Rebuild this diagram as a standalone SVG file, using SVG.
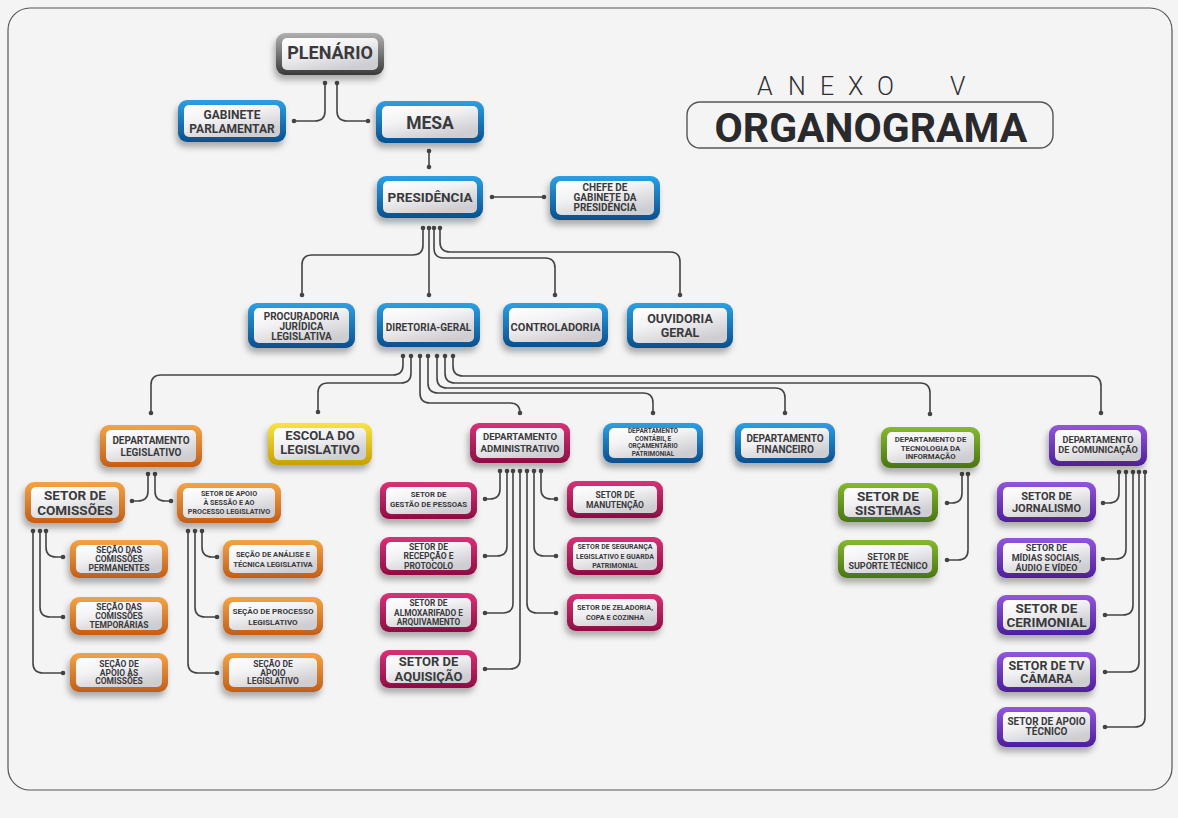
<svg xmlns="http://www.w3.org/2000/svg" width="1178" height="818" viewBox="0 0 1178 818">
<style>
.o{filter:url(#sh)}
.i{fill:url(#gIn)}
.t{font-family:Roboto,"Liberation Sans",sans-serif;font-weight:700;fill:#3a3a3c;text-anchor:middle}
.gray .o{fill:url(#gGray)}
.blue .o{fill:url(#gBlue)}
.orange .o{fill:url(#gOrange)}
.yellow .o{fill:url(#gYellow)}
.mag .o{fill:url(#gMag)}
.green .o{fill:url(#gGreen)}
.purple .o{fill:url(#gPurple)}
#connectors path{fill:none;stroke:#444;stroke-width:1.6;marker-start:url(#dot);marker-end:url(#dot)}
</style>
<defs>
<filter id="sh" x="-20%" y="-30%" width="140%" height="170%"><feDropShadow dx="-2" dy="5" stdDeviation="3" flood-color="#000" flood-opacity="0.3"/></filter>
<marker id="dot" viewBox="-3 -3 6 6" markerWidth="6" markerHeight="6" refX="0" refY="0" markerUnits="userSpaceOnUse"><circle r="2.3" fill="#444"/></marker>
<linearGradient id="gIn" x1="0" y1="0" x2="0.6" y2="1"><stop offset="0" stop-color="#ffffff"/><stop offset="0.45" stop-color="#f2f2f4"/><stop offset="1" stop-color="#cdcdd2"/></linearGradient>
<linearGradient id="gGray" x1="0" y1="0" x2="0" y2="1"><stop offset="0" stop-color="#b0b0b0"/><stop offset="1" stop-color="#3a3a3a"/></linearGradient>
<linearGradient id="gBlue" x1="0" y1="0" x2="0" y2="1"><stop offset="0" stop-color="#2ba0e4"/><stop offset="1" stop-color="#0b4f8c"/></linearGradient>
<linearGradient id="gOrange" x1="0" y1="0" x2="0" y2="1"><stop offset="0" stop-color="#f3a446"/><stop offset="1" stop-color="#c25e18"/></linearGradient>
<linearGradient id="gYellow" x1="0" y1="0" x2="0" y2="1"><stop offset="0" stop-color="#f8e444"/><stop offset="1" stop-color="#c8a000"/></linearGradient>
<linearGradient id="gMag" x1="0" y1="0" x2="0" y2="1"><stop offset="0" stop-color="#d83276"/><stop offset="1" stop-color="#8c0e44"/></linearGradient>
<linearGradient id="gGreen" x1="0" y1="0" x2="0" y2="1"><stop offset="0" stop-color="#86b830"/><stop offset="1" stop-color="#4a7512"/></linearGradient>
<linearGradient id="gPurple" x1="0" y1="0" x2="0" y2="1"><stop offset="0" stop-color="#9256dc"/><stop offset="1" stop-color="#4d1f99"/></linearGradient>
</defs>
<rect x="0" y="0" width="1178" height="818" fill="#f4f4f4"/>
<rect x="8" y="8" width="1164" height="782" rx="22" fill="#f4f4f4" stroke="#555" stroke-width="1.2"/>

<g id="title">
<text x="757 788 820 848 877 920 950" y="95" font-family="Roboto,'Liberation Sans',sans-serif" font-weight="300" font-size="25" fill="#2e2e30">ANEXO V</text>
<rect x="687" y="102" width="366" height="46" rx="13" fill="none" stroke="#555" stroke-width="1.4"/>
<text x="871" y="142" font-family="Roboto,'Liberation Sans',sans-serif" font-weight="700" font-size="41" fill="#2a2a2c" text-anchor="middle">ORGANOGRAMA</text>
</g>

<g id="connectors">
<path d="M325,83 V111 Q325,121 315,121 H294"/>
<path d="M337,83 V111 Q337,121 347,121 H368"/>
<path d="M429,151 V167"/>
<path d="M492,197 H544"/>
<path d="M423,228 V245 Q423,255 413,255 H312 Q302,255 302,265 V295"/>
<path d="M429,228 V295"/>
<path d="M434,228 V248 Q434,258 444,258 H545 Q555,258 555,268 V295"/>
<path d="M440,228 V242 Q440,252 450,252 H670 Q680,252 680,262 V295"/>
<path d="M403,356 V365 Q403,375 393,375 H161 Q151,375 151,385 V413"/>
<path d="M411,356 V373 Q411,383 401,383 H328 Q318,383 318,393 V412"/>
<path d="M420,356 V393 Q420,403 430,403 H510 Q520,403 520,413"/>
<path d="M428,356 V383 Q428,393 438,393 H643 Q653,393 653,403 V413"/>
<path d="M437,356 V378 Q437,388 447,388 H775 Q785,388 785,398 V413"/>
<path d="M445,356 V373 Q445,383 455,383 H920 Q930,383 930,393 V414"/>
<path d="M453,356 V366 Q453,376 463,376 H1091 Q1101,376 1101,386 V413"/>
<path d="M148,474 V491 Q148,501 138,501 H132"/>
<path d="M155,474 V491 Q155,501 165,501 H171"/>
<path d="M46,531 V547 Q46,557 56,557 H63"/>
<path d="M40,531 V607 Q40,617 50,617 H63"/>
<path d="M33,531 V663 Q33,673 43,673 H63"/>
<path d="M202,531 V547 Q202,557 212,557 H217"/>
<path d="M195,531 V607 Q195,617 205,617 H217"/>
<path d="M188,531 V663 Q188,673 198,673 H217"/>
<path d="M500,471 V489 Q500,499 490,499 H485"/>
<path d="M507,471 V546 Q507,556 497,556 H485"/>
<path d="M513,471 V603 Q513,613 503,613 H485"/>
<path d="M520,471 V659 Q520,669 510,669 H485"/>
<path d="M527,471 V603 Q527,613 537,613 H556"/>
<path d="M534,471 V546 Q534,556 544,556 H556"/>
<path d="M541,471 V489 Q541,499 551,499 H556"/>
<path d="M962,474 V493 Q962,503 952,503 H947"/>
<path d="M968,474 V550 Q968,560 958,560 H947"/>
<path d="M1119,472 V493 Q1119,503 1109,503 H1103"/>
<path d="M1126,472 V549 Q1126,559 1116,559 H1103"/>
<path d="M1133,472 V605 Q1133,615 1123,615 H1105"/>
<path d="M1139,472 V662 Q1139,672 1129,672 H1105"/>
<path d="M1145,472 V717 Q1145,727 1135,727 H1105"/>
</g>

<g id="n-plenario" class="gray"><rect class="o" x="276" y="33" width="108" height="42" rx="9"/><rect class="i" x="282" y="38" width="96" height="32" rx="5"/><text class="t" x="330" y="59.3" font-size="18">PLENÁRIO</text></g>
<g id="n-gabinete" class="blue"><rect class="o" x="178" y="100" width="108" height="42" rx="9"/><rect class="i" x="184" y="105" width="96" height="32" rx="5"/><text class="t" x="232" font-size="12"><tspan x="232" y="119.2">GABINETE</tspan><tspan x="232" y="133.2">PARLAMENTAR</tspan></text></g>
<g id="n-mesa" class="blue"><rect class="o" x="376" y="101" width="108" height="42" rx="9"/><rect class="i" x="382" y="106" width="96" height="32" rx="5"/><text class="t" x="430" y="129" font-size="17.5">MESA</text></g>
<g id="n-presidencia" class="blue"><rect class="o" x="377" y="176" width="106" height="42" rx="9"/><rect class="i" x="383" y="181" width="94" height="32" rx="5"/><text class="t" x="430" y="201.7" font-size="13.5">PRESIDÊNCIA</text></g>
<g id="n-chefe" class="blue"><rect class="o" x="550" y="176" width="110" height="44" rx="9"/><rect class="i" x="556" y="181" width="98" height="34" rx="5"/><text class="t" font-size="10"><tspan x="605" y="190.5">CHEFE DE</tspan><tspan x="605" y="200.5">GABINETE DA</tspan><tspan x="605" y="210.5">PRESIDÊNCIA</tspan></text></g>
<g id="n-procuradoria" class="blue"><rect class="o" x="248" y="303" width="107" height="45" rx="9"/><rect class="i" x="254" y="308" width="95" height="35" rx="5"/><text class="t" font-size="10"><tspan x="301.5" y="319.5">PROCURADORIA</tspan><tspan x="301.5" y="329.5">JURÍDICA</tspan><tspan x="301.5" y="339.5">LEGISLATIVA</tspan></text></g>
<g id="n-diretoria" class="blue"><rect class="o" x="377" y="303" width="103" height="44" rx="9"/><rect class="i" x="383" y="308" width="91" height="34" rx="5"/><text class="t" x="428.5" y="330.5" font-size="10">DIRETORIA-GERAL</text></g>
<g id="n-controladoria" class="blue"><rect class="o" x="503" y="303" width="105" height="44" rx="9"/><rect class="i" x="509" y="308" width="93" height="34" rx="5"/><text class="t" x="555.5" y="330.8" font-size="11">CONTROLADORIA</text></g>
<g id="n-ouvidoria" class="blue"><rect class="o" x="627" y="303" width="106" height="45" rx="9"/><rect class="i" x="633" y="308" width="94" height="35" rx="5"/><text class="t" font-size="12.5"><tspan x="680" y="323.4">OUVIDORIA</tspan><tspan x="680" y="337.4">GERAL</tspan></text></g>

<g id="n-dep-legislativo" class="orange"><rect class="o" x="100" y="425" width="102" height="42" rx="9"/><rect class="i" x="106" y="430" width="90" height="32" rx="5"/><text class="t" font-size="10"><tspan x="151" y="443.5">DEPARTAMENTO</tspan><tspan x="151" y="455.5">LEGISLATIVO</tspan></text></g>
<g id="n-escola" class="yellow"><rect class="o" x="268" y="423" width="104" height="42" rx="9"/><rect class="i" x="274" y="428" width="92" height="32" rx="5"/><text class="t" font-size="13"><tspan x="320" y="439.5">ESCOLA DO</tspan><tspan x="320" y="453.5">LEGISLATIVO</tspan></text></g>
<g id="n-dep-administrativo" class="mag"><rect class="o" x="470" y="423" width="100" height="40" rx="9"/><rect class="i" x="476" y="428" width="88" height="30" rx="5"/><text class="t" font-size="9.6"><tspan x="520" y="439.5">DEPARTAMENTO</tspan><tspan x="520" y="451.5">ADMINISTRATIVO</tspan></text></g>
<g id="n-dep-contabil" class="blue"><rect class="o" x="603" y="423" width="100" height="40" rx="9"/><rect class="i" x="609" y="428" width="88" height="30" rx="5"/><text class="t" font-size="6.5"><tspan x="653" y="433.3">DEPARTAMENTO</tspan><tspan x="653" y="440.8">CONTÁBIL E</tspan><tspan x="653" y="448.3">ORÇAMENTÁRIO</tspan><tspan x="653" y="455.8">PATRIMONIAL</tspan></text></g>
<g id="n-dep-financeiro" class="blue"><rect class="o" x="735" y="423" width="100" height="40" rx="9"/><rect class="i" x="741" y="428" width="88" height="30" rx="5"/><text class="t" font-size="10"><tspan x="785" y="441.5">DEPARTAMENTO</tspan><tspan x="785" y="452.5">FINANCEIRO</tspan></text></g>
<g id="n-dep-ti" class="green"><rect class="o" x="881" y="427" width="99" height="41" rx="9"/><rect class="i" x="887" y="432" width="87" height="31" rx="5"/><text class="t" font-size="7.8"><tspan x="930.5" y="442">DEPARTAMENTO DE</tspan><tspan x="930.5" y="450.5">TECNOLOGIA DA</tspan><tspan x="930.5" y="459">INFORMAÇÃO</tspan></text></g>
<g id="n-dep-comunicacao" class="purple"><rect class="o" x="1049" y="425" width="98" height="41" rx="9"/><rect class="i" x="1055" y="430" width="86" height="31" rx="5"/><text class="t" font-size="9.2"><tspan x="1098" y="442.5">DEPARTAMENTO</tspan><tspan x="1098" y="452.5">DE COMUNICAÇÃO</tspan></text></g>

<g id="n-setor-comissoes" class="orange"><rect class="o" x="25" y="482" width="100" height="41" rx="9"/><rect class="i" x="31" y="487" width="88" height="31" rx="5"/><text class="t" font-size="13.5"><tspan x="75" y="499.7">SETOR DE</tspan><tspan x="75" y="514.7">COMISSÕES</tspan></text></g>
<g id="n-setor-apoio-sessao" class="orange"><rect class="o" x="177" y="483" width="104" height="40" rx="9"/><rect class="i" x="183" y="488" width="92" height="30" rx="5"/><text class="t" font-size="7.2"><tspan x="229" y="495.7">SETOR DE APOIO</tspan><tspan x="229" y="504.7">À SESSÃO E AO</tspan><tspan x="229" y="513.7">PROCESSO LEGISLATIVO</tspan></text></g>
<g id="n-secao-permanentes" class="orange"><rect class="o" x="70" y="540" width="98" height="38" rx="9"/><rect class="i" x="76" y="545" width="86" height="28" rx="5"/><text class="t" font-size="8.5"><tspan x="119" y="553.2">SEÇÃO DAS</tspan><tspan x="119" y="562">COMISSÕES</tspan><tspan x="119" y="570.8">PERMANENTES</tspan></text></g>
<g id="n-secao-temporarias" class="orange"><rect class="o" x="70" y="597" width="98" height="38" rx="9"/><rect class="i" x="76" y="602" width="86" height="28" rx="5"/><text class="t" font-size="8.5"><tspan x="119" y="610.2">SEÇÃO DAS</tspan><tspan x="119" y="619">COMISSÕES</tspan><tspan x="119" y="627.8">TEMPORÁRIAS</tspan></text></g>
<g id="n-secao-apoio-comissoes" class="orange"><rect class="o" x="70" y="653" width="98" height="39" rx="9"/><rect class="i" x="76" y="658" width="86" height="29" rx="5"/><text class="t" font-size="8.5"><tspan x="119" y="666.7">SEÇÃO DE</tspan><tspan x="119" y="675.5">APOIO ÀS</tspan><tspan x="119" y="684.3">COMISSÕES</tspan></text></g>
<g id="n-secao-analise" class="orange"><rect class="o" x="223" y="540" width="100" height="38" rx="9"/><rect class="i" x="229" y="545" width="88" height="28" rx="5"/><text class="t" font-size="7.6"><tspan x="273" y="556.5">SEÇÃO DE ANÁLISE E</tspan><tspan x="273" y="567">TÉCNICA LEGISLATIVA</tspan></text></g>
<g id="n-secao-processo" class="orange"><rect class="o" x="223" y="597" width="100" height="38" rx="9"/><rect class="i" x="229" y="602" width="88" height="28" rx="5"/><text class="t" font-size="8.1"><tspan x="273" y="613.5">SEÇÃO DE PROCESSO</tspan><tspan x="273" y="624.5">LEGISLATIVO</tspan></text></g>
<g id="n-secao-apoio-legislativo" class="orange"><rect class="o" x="223" y="653" width="100" height="39" rx="9"/><rect class="i" x="229" y="658" width="88" height="29" rx="5"/><text class="t" font-size="8.5"><tspan x="273" y="666.7">SEÇÃO DE</tspan><tspan x="273" y="675.5">APOIO</tspan><tspan x="273" y="684.3">LEGISLATIVO</tspan></text></g>

<g id="n-gestao" class="mag"><rect class="o" x="380" y="482" width="97" height="37" rx="9"/><rect class="i" x="386" y="487" width="85" height="27" rx="5"/><text class="t" font-size="7.8"><tspan x="428.5" y="497.4">SETOR DE</tspan><tspan x="428.5" y="507.4">GESTÃO DE PESSOAS</tspan></text></g>
<g id="n-recepcao" class="mag"><rect class="o" x="380" y="537" width="97" height="38" rx="9"/><rect class="i" x="386" y="542" width="85" height="28" rx="5"/><text class="t" font-size="8.5"><tspan x="428.5" y="549.5">SETOR DE</tspan><tspan x="428.5" y="559">RECEPÇÃO E</tspan><tspan x="428.5" y="568.5">PROTOCOLO</tspan></text></g>
<g id="n-almoxarifado" class="mag"><rect class="o" x="380" y="593" width="97" height="39" rx="9"/><rect class="i" x="386" y="598" width="85" height="29" rx="5"/><text class="t" font-size="8.3"><tspan x="428.5" y="606">SETOR DE</tspan><tspan x="428.5" y="615.5">ALMOXARIFADO E</tspan><tspan x="428.5" y="625">ARQUIVAMENTO</tspan></text></g>
<g id="n-aquisicao" class="mag"><rect class="o" x="380" y="650" width="97" height="38" rx="9"/><rect class="i" x="386" y="655" width="85" height="28" rx="5"/><text class="t" font-size="13"><tspan x="428.5" y="666.3">SETOR DE</tspan><tspan x="428.5" y="680.8">AQUISIÇÃO</tspan></text></g>
<g id="n-manutencao" class="mag"><rect class="o" x="567" y="481" width="96" height="37" rx="9"/><rect class="i" x="573" y="486" width="84" height="27" rx="5"/><text class="t" font-size="8.5"><tspan x="615" y="497.5">SETOR DE</tspan><tspan x="615" y="507.5">MANUTENÇÃO</tspan></text></g>
<g id="n-seguranca" class="mag"><rect class="o" x="567" y="537" width="96" height="38" rx="9"/><rect class="i" x="573" y="542" width="84" height="28" rx="5"/><text class="t" font-size="7"><tspan x="615" y="549.4">SETOR DE SEGURANÇA</tspan><tspan x="615" y="558.7">LEGISLATIVO E GUARDA</tspan><tspan x="615" y="568">PATRIMONIAL</tspan></text></g>
<g id="n-zeladoria" class="mag"><rect class="o" x="567" y="594" width="96" height="37" rx="9"/><rect class="i" x="573" y="599" width="84" height="27" rx="5"/><text class="t" font-size="7.3"><tspan x="615" y="610">SETOR DE ZELADORIA,</tspan><tspan x="615" y="620">COPA E COZINHA</tspan></text></g>

<g id="n-sistemas" class="green"><rect class="o" x="838" y="483" width="100" height="39" rx="9"/><rect class="i" x="844" y="488" width="88" height="29" rx="5"/><text class="t" font-size="13.5"><tspan x="888" y="501">SETOR DE</tspan><tspan x="888" y="515">SISTEMAS</tspan></text></g>
<g id="n-suporte" class="green"><rect class="o" x="838" y="540" width="100" height="38" rx="9"/><rect class="i" x="844" y="545" width="88" height="28" rx="5"/><text class="t" font-size="9"><tspan x="888" y="559.5">SETOR DE</tspan><tspan x="888" y="569">SUPORTE TÉCNICO</tspan></text></g>

<g id="n-jornalismo" class="purple"><rect class="o" x="997" y="482" width="99" height="40" rx="9"/><rect class="i" x="1003" y="487" width="87" height="30" rx="5"/><text class="t" font-size="11"><tspan x="1046.5" y="499.9">SETOR DE</tspan><tspan x="1046.5" y="511.9">JORNALISMO</tspan></text></g>
<g id="n-midias" class="purple"><rect class="o" x="997" y="538" width="99" height="40" rx="9"/><rect class="i" x="1003" y="543" width="87" height="30" rx="5"/><text class="t" font-size="9"><tspan x="1046.5" y="551">SETOR DE</tspan><tspan x="1046.5" y="561">MÍDIAS SOCIAIS,</tspan><tspan x="1046.5" y="571">ÁUDIO E VÍDEO</tspan></text></g>
<g id="n-cerimonial" class="purple"><rect class="o" x="997" y="595" width="99" height="40" rx="9"/><rect class="i" x="1003" y="600" width="87" height="30" rx="5"/><text class="t" font-size="13.5"><tspan x="1046.5" y="613">SETOR DE</tspan><tspan x="1046.5" y="627">CERIMONIAL</tspan></text></g>
<g id="n-tv" class="purple"><rect class="o" x="997" y="652" width="99" height="40" rx="9"/><rect class="i" x="1003" y="657" width="87" height="30" rx="5"/><text class="t" font-size="12.5"><tspan x="1046.5" y="670.4">SETOR DE TV</tspan><tspan x="1046.5" y="683.4">CÂMARA</tspan></text></g>
<g id="n-apoio-tecnico" class="purple"><rect class="o" x="997" y="707" width="99" height="40" rx="9"/><rect class="i" x="1003" y="712" width="87" height="30" rx="5"/><text class="t" font-size="10"><tspan x="1046.5" y="724.5">SETOR DE APOIO</tspan><tspan x="1046.5" y="734.5">TÉCNICO</tspan></text></g>
</svg>
